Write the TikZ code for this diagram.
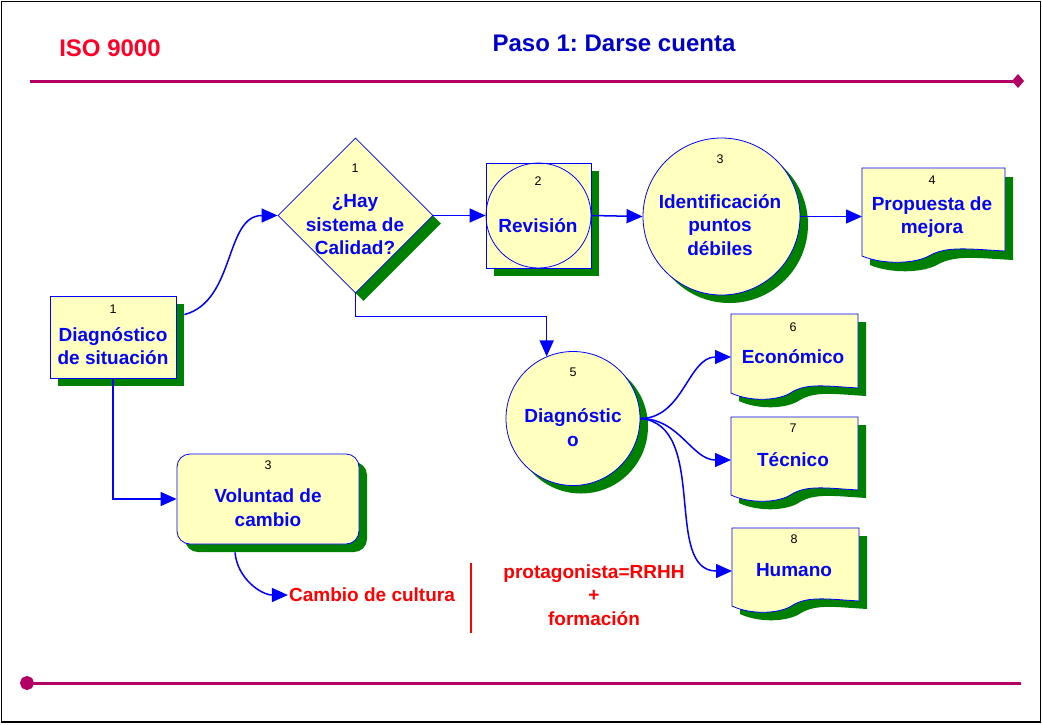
\documentclass[tikz,border=0pt]{standalone}
\usepackage{fontspec}
\setmainfont{Liberation Sans}
\frenchspacing
\usetikzlibrary{shapes.geometric,shadows,arrows.meta,calc}
\definecolor{fillyel}{RGB}{255,255,192}
\definecolor{shgreen}{RGB}{0,128,0}
\definecolor{lnblue}{RGB}{0,0,255}
\definecolor{txblue}{RGB}{5,5,245}
\definecolor{hdblue}{RGB}{0,0,200}
\definecolor{lnmag}{RGB}{180,0,100}
\definecolor{isored}{RGB}{255,0,40}
\definecolor{txred}{RGB}{255,0,0}
% outline of a document sheet, w x h, wavy bottom
\newcommand{\docpath}[2]{(0,0) -- (#1,0) -- (#1,{#2-5})
  .. controls ({0.75*#1},{#2-7}) and ({0.6*#1},{#2-10}) .. ({0.48*#1},{#2-1})
  .. controls ({0.38*#1},{#2+8}) and ({0.15*#1},{#2+9}) .. (0,#2) -- cycle}
\tikzset{
  fig/.style={draw=lnblue,fill=fillyel,line width=0.8pt},
  shad/.style={drop shadow={shadow xshift=8pt,shadow yshift=-8pt,fill=shgreen,opacity=1}},
  docn/.style={inner sep=0pt,outer sep=0pt},
  num/.style={font=\fontsize{12.5}{14}\selectfont,text=black},
  redtxt/.style={text=txred},
  conn/.style={draw=lnblue,line width=1.5pt,-{Triangle[length=16pt,width=14pt]}},
  mline/.style={draw=lnmag,line width=3pt}
}
\begin{document}
\begin{tikzpicture}[x=1pt,y=-1pt]
\tikzstyle{every node}=[font=\fontsize{19}{23.5}\selectfont\bfseries,text=txblue,align=center]
\useasboundingbox (0,0) rectangle (1042,724);
\draw[line width=1.5pt] (1.5,1.5) rectangle (1040.5,722);
% header and footer
\node[text=isored,font=\fontsize{24}{28}\selectfont\bfseries] (iso) at (110,48) {ISO 9000};
\node[text=hdblue,font=\fontsize{24}{28}\selectfont\bfseries] (paso) at (614,43) {Paso 1: Darse cuenta};
\draw[mline,-{Diamond[length=12pt,width=14pt]}] (30,81) -- (1024,81);
\draw[mline,{Circle[length=14pt]}-] (20,683) -- (1021,683);
% shapes
\node[fig,shad,minimum width=126pt,minimum height=82pt] (sit) at (113,337) {};
\node[num] (sitn) at (113,309) {1};
\node (sitt) at (113,346) {Diagnóstico\\de situación};
\node[fig,diamond,inner sep=0pt,minimum width=155pt,minimum height=155pt,
  drop shadow={shadow xshift=8pt,shadow yshift=-8pt,fill=shgreen,opacity=1}] (dia) at (355.5,215.5) {};
\node[num] (dian) at (355,168) {1};
\node (diat) at (355,225) {¿Hay\\sistema de\\Calidad?};
\node[fig,shad,minimum size=105pt] (rev) at (538.5,215.5) {};
\node[draw=lnblue,circle,line width=0.8pt,minimum size=105pt] (revc) at (rev) {};
\node[num] (revn) at (538,181) {2};
\node (revt) at (538,226) {Revisión};
\node[fig,circle,shad,minimum size=157pt] (id) at (721.5,216.5) {};
\node[num] (idn) at (720,159) {3};
\node (idt) at (720,225) {Identificación\\puntos\\débiles};
\node[docn,minimum width=143pt,minimum height=98pt] (prop) at (933.5,217) {};
\fill[shgreen,shift={(prop.north west)},xshift=8pt,yshift=-9pt] \docpath{143}{88};
\filldraw[fig,shift={(prop.north west)}] \docpath{143}{88};
\node[num] (propn) at (932,180) {4};
\node (propt) at (932,217) {Propuesta de\\mejora};
\node[fig,circle,shad,minimum size=134pt] (diag) at (573,418.5) {};
\node[num] (diagn) at (573,372) {5};
\node (diagt) at (573,427.5) {Diagnóstic\\o};
\node[docn,minimum width=127pt,minimum height=86pt] (eco) at (794.5,357) {};
\fill[shgreen,shift={(eco.north west)},xshift=8pt,yshift=-8pt] \docpath{127}{79};
\filldraw[fig,shift={(eco.north west)}] \docpath{127}{79};
\node[num] (econ) at (793,327) {6};
\node (ecot) at (793,357) {Económico};
\node[docn,minimum width=127pt,minimum height=86pt] (tec) at (794.5,460) {};
\fill[shgreen,shift={(tec.north west)},xshift=8pt,yshift=-8pt] \docpath{127}{78};
\filldraw[fig,shift={(tec.north west)}] \docpath{127}{78};
\node[num] (tecn) at (793,428) {7};
\node (tect) at (793,460) {Técnico};
\node[docn,minimum width=127pt,minimum height=86pt] (hum) at (795.5,571) {};
\fill[shgreen,shift={(hum.north west)},xshift=8pt,yshift=-8pt] \docpath{127}{78};
\filldraw[fig,shift={(hum.north west)}] \docpath{127}{78};
\node[num] (humn) at (794,539) {8};
\node (humt) at (794,570) {Humano};
\node[fig,shad,rounded corners=13pt,minimum width=182pt,minimum height=90pt] (vol) at (268,499) {};
\node[num] (voln) at (268,465) {3};
\node (volt) at (268,507.5) {Voluntad de\\cambio};
\node[redtxt,inner sep=1pt] (cult) at (372,595) {Cambio de cultura};
\node[redtxt] (prot) at (594,595) {protagonista=RRHH\\+\\formación};
\draw[txred,line width=1.5pt] (471,563) -- (471,633);
% connectors
\draw[conn] ($(sit.north east)+(8,19)$) to[out=15,in=180] (dia.west);
\draw[conn] (dia.east) -- (rev.west);
\draw[conn] (rev.east) -- (id.west);
\draw[conn] (id.east) -- (id.east -| prop.west);
\draw[conn] (dia.south) -- ++(0,23) -| (diag.113);
\draw[conn] (diag.east) to[out=0,in=180] (eco.west);
\draw[conn] (diag.east) to[out=0,in=180] (tec.west);
\draw[conn] (diag.east) to[out=-5,in=180] (hum.west);
\draw[conn] (sit.south) |- (vol.west);
\coordinate (volb) at ($(vol.south)+(-33,8)$);
\draw[conn] (volb) to[out=-85,in=180] (cult.west);
\end{tikzpicture}
\end{document}
